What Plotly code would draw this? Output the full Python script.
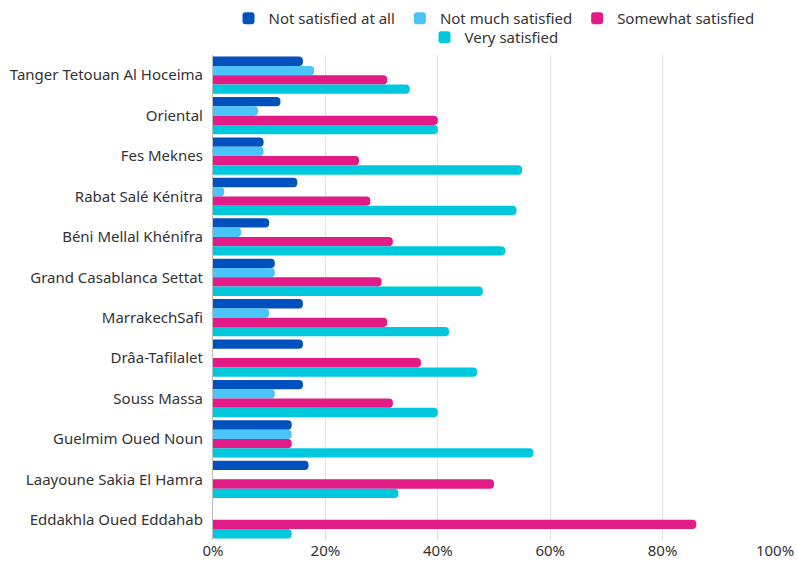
import plotly.graph_objects as go

regions = ["Tanger Tetouan Al Hoceima", "Oriental", "Fes Meknes", "Rabat Salé Kénitra",
           "Béni Mellal Khénifra", "Grand Casablanca Settat", "MarrakechSafi", "Drâa-Tafilalet",
           "Souss Massa", "Guelmim Oued Noun", "Laayoune Sakia El Hamra", "Eddakhla Oued Eddahab"]

not_at_all = [0.16, 0.12, 0.09, 0.15, 0.10, 0.11, 0.16, 0.16, 0.16, 0.14, 0.17, 0.00]
not_much = [0.18, 0.08, 0.09, 0.02, 0.05, 0.11, 0.10, 0.00, 0.11, 0.14, 0.00, 0.00]
somewhat = [0.31, 0.40, 0.26, 0.28, 0.32, 0.30, 0.31, 0.37, 0.32, 0.14, 0.50, 0.86]
very = [0.35, 0.40, 0.55, 0.54, 0.52, 0.48, 0.42, 0.47, 0.40, 0.57, 0.33, 0.14]

series = [
    ("Not satisfied at all", not_at_all, "#0050BE", "legend"),
    ("Not much satisfied", not_much, "#4BC4FA", "legend"),
    ("Somewhat satisfied", somewhat, "#E31B86", "legend"),
    ("Very satisfied", very, "#00C8DC", "legend2"),
]

fig = go.Figure()
for name, vals, color, leg in series:
    fig.add_trace(go.Bar(y=regions, x=vals, name=name, orientation="h", legend=leg,
                         marker=dict(color=color, line=dict(width=0))))

font = "Noto Sans"
legend_common = dict(orientation="h", x=0.5, xanchor="center", xref="paper",
                     yanchor="top", yref="container",
                     font=dict(family=font, size=15, color="#333333"),
                     itemwidth=30, tracegroupgap=0, bgcolor="rgba(0,0,0,0)")
fig.update_layout(
    width=798, height=563,
    margin=dict(l=213, r=23, t=55, b=23, autoexpand=False),
    paper_bgcolor="white", plot_bgcolor="white",
    barmode="group", bargap=0.08, bargroupgap=0.0, barcornerradius=4,
    font=dict(family=font, size=15, color="#333333"),
    legend=dict(y=0.9964, **legend_common),
    legend2=dict(y=0.9627, **legend_common),
    xaxis=dict(range=[0, 1.0], tickvals=[0, 0.2, 0.4, 0.6, 0.8, 1.0], tickformat=".0%",
               showgrid=True, gridcolor="#e2e2e2", gridwidth=1, zeroline=False,
               showline=False, automargin=False,
               tickfont=dict(family=font, size=15, color="#333333")),
    yaxis=dict(autorange="reversed", showline=True, linecolor="#bdbdbd", linewidth=1,
               showgrid=False, ticks="", ticklabelstandoff=6, automargin=False,
               tickfont=dict(family=font, size=15, color="#333333")),
    showlegend=True,
)

fig.write_html("out.html")
